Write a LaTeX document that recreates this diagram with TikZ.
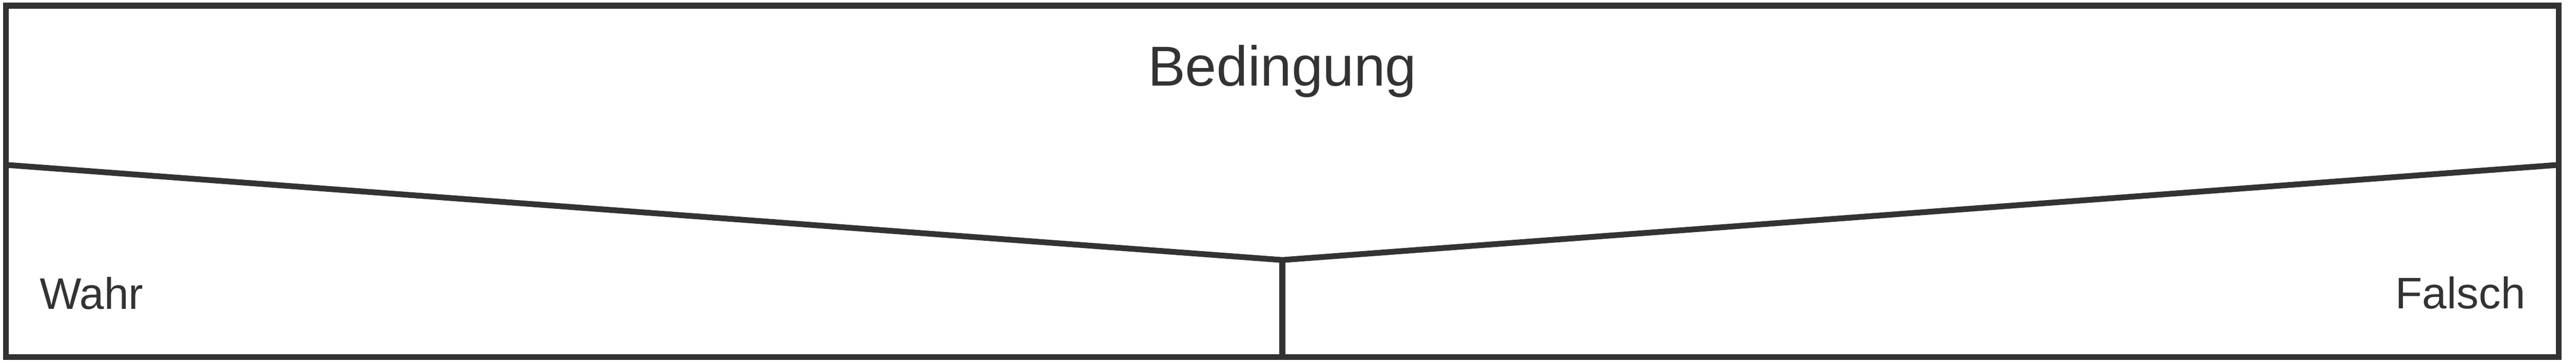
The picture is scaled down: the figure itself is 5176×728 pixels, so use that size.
\documentclass[tikz,border=0pt]{standalone}
\usepackage{fontspec}
\setmainfont{Liberation Sans}
\usetikzlibrary{positioning}
\definecolor{struk}{HTML}{333333}

\begin{document}
\begin{tikzpicture}[x=0.01cm,y=-0.01cm,line width=3.3pt,color=struk,
                    lbl/.style={inner sep=0pt,font=\fontsize{25.2}{30}\selectfont}]
                    \useasboundingbox (0,0) rectangle (5176,728);
                    \coordinate (tl) at (11.5,11.5);
                    \coordinate (br) at (5141.5,716.5);
                    \coordinate (l) at (11.5,331);
                    \coordinate (r) at (5141.5,331);
                    \coordinate (v) at (2576.5,522);
                    \coordinate (b) at (2576.5,716.5);
                    \draw (tl) rectangle (br);
                    \draw (l) -- (v) -- (r);
                    \draw (v) -- (b);
                    \node[anchor=base,inner sep=0pt,font=\fontsize{32.1}{38}\selectfont] (cond) at (2576.5,172) {Bedingung};
                    \node[lbl,anchor=base west] (wahr) at (74,621) {Wahr};
                    \node[lbl,anchor=base east] (falsch) at (5080,620) {Falsch};
                \end{tikzpicture}
\end{document}
